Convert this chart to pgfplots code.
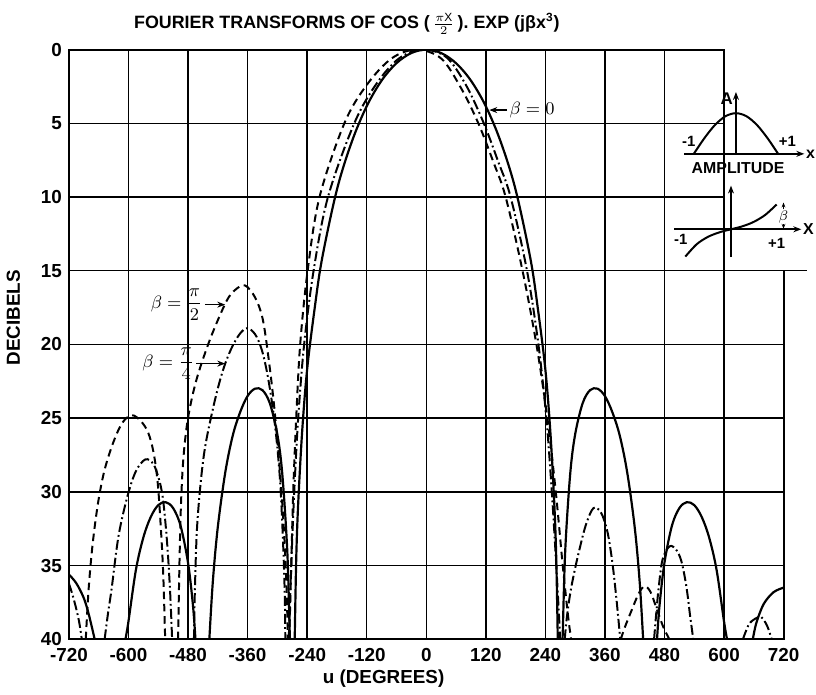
\documentclass[border=0pt]{standalone}
\usepackage{pgfplots}
\pgfplotsset{compat=1.18}
\usepackage{fontspec}
\setmainfont{Liberation Sans}
\usetikzlibrary{arrows.meta}

\pgfplotsset{
  bzero/.style={black, line width=1.1pt, smooth, tension=0.55, no markers},
  bquarter/.style={black, line width=1.0pt, smooth, tension=0.55, no markers,
    dash pattern=on 5pt off 1.6pt on 0.9pt off 1.6pt},
  bhalf/.style={black, line width=1.0pt, smooth, tension=0.55, no markers,
    dash pattern=on 3.8pt off 2.4pt},
}

\begin{document}
\begin{tikzpicture}
\begin{axis}[
  name=main, at={(0,0)}, anchor=south west,
  width=360pt, height=297pt, scale only axis,
  xmin=-720, xmax=720, ymin=0, ymax=40, y dir=reverse,
  xtick={-720,-600,...,720}, ytick={0,5,...,40},
  grid=major, grid style={black, line width=0.7pt},
  axis line style={black, line width=0.9pt},
  major tick length=0pt,
  tick label style={font=\bfseries\fontsize{9.5}{11}\selectfont},
  /pgf/number format/assume math mode=true,
  xticklabel style={yshift=-1pt},
  clip mode=individual,
]
% beta = 0 (solid)
\addplot[bzero] coordinates {(-265,40) (-262,34.6) (-258,30.8) (-250,25.9) (-240,21.7) (-225,17.6) (-210,14.2) (-180,9.5) (-150,6.25) (-120,3.84) (-90,2.1) (-60,0.92) (-30,0.23) (0,0) (30,0.23) (60,0.92) (90,2.1) (120,3.84) (150,6.25) (180,9.5) (210,14.2) (225,17.6) (240,21.7) (250,25.9) (258,30.8) (262,34.6) (265,40)};
\addplot[bzero] coordinates {(-437,40) (-430,36.1) (-420,32.4) (-405,28.7) (-390,26.2) (-375,24.6) (-360,23.5) (-345,23.0) (-330,23.1) (-315,24.0) (-300,26.1) (-290,28.8) (-280,34.0) (-275,39.6) (-274,40)};
\addplot[bzero] coordinates {(274,40) (275,39.6) (280,34.0) (290,28.8) (300,26.1) (315,24.0) (330,23.1) (345,23.0) (360,23.5) (375,24.6) (390,26.2) (405,28.7) (420,32.4) (430,36.1) (437,40)};
\addplot[bzero] coordinates {(-606,40) (-600,38.8) (-585,35.3) (-570,33.1) (-555,31.7) (-540,30.9) (-525,30.7) (-510,31.1) (-495,32.3) (-480,34.8) (-470,37.7) (-465,40)};
\addplot[bzero] coordinates {(465,40) (470,37.7) (480,34.8) (495,32.3) (510,31.1) (525,30.7) (540,30.9) (555,31.7) (570,33.1) (585,35.3) (600,38.8) (606,40)};
\addplot[bzero] coordinates {(-720,35.6) (-705,36.2) (-690,37.2) (-680,38.3) (-668,40)};
\addplot[bzero] coordinates {(658,40) (665,38.9) (680,37.6) (700,36.8) (720,36.5)};

% beta = pi/4 (dash-dot)
\addplot[bquarter] coordinates {(-277,40) (-272,35) (-266,30) (-258,25) (-246,20) (-227,15) (-198,10) (-145,5) (-100,2.3) (-55,0.6) (-8,0) (40,0.5) (80,2.4) (116,5) (145,7.6) (170,10) (203,15) (226,20) (242,25) (253,30) (262,35) (270,40)};
\addplot[bquarter] coordinates {(-468,40) (-466,36.5) (-461,32) (-448,27.5) (-428,24.1) (-410,21.8) (-393,20.3) (-376,19.3) (-361,18.9) (-345,19.3) (-331,20.4) (-318,22.4) (-305,25.4) (-295,29) (-289,33) (-285,37) (-284,40)};
\addplot[bquarter] coordinates {(-648,40) (-641,38.2) (-634,36.6) (-620,33) (-602,30.3) (-585,28.6) (-566,27.8) (-550,28.1) (-538,29.2) (-530,30.6) (-522,33.5) (-516,36.8) (-512,40)};
\addplot[bquarter] coordinates {(-720,36.2) (-710,37.3) (-700,38.7) (-694,40)};
\addplot[bquarter] coordinates {(279,40) (283,38.6) (290,36.9) (298,35.5) (308,34) (322,32.2) (337,31.1) (352,31.4) (365,32.7) (375,34.8) (383,37.2) (389,39.3) (391,40)};
\addplot[bquarter] coordinates {(459,40) (463,38.4) (468,36.6) (476,34.6) (490,33.7) (503,33.9) (514,34.7) (524,36.4) (532,38.5) (538,40)};
\addplot[bquarter] coordinates {(638,40) (650,39) (663,38.6) (675,38.5) (687,39.1) (696,40)};

% beta = pi/2 (dashed)
\addplot[bhalf] coordinates {(-276,40) (-272,35) (-268,30) (-262,25) (-254,20) (-239,15) (-215,10) (-165,5) (-120,2.4) (-70,0.6) (-20,0) (30,0.6) (70,2.6) (105,5) (135,7.6) (160,10) (194,15) (222,20) (244,25) (261,30) (275,35) (286,38.5) (292,40)};
\addplot[bhalf] coordinates {(-500,40) (-497,34.5) (-494,30.7) (-489,27.6) (-480,25) (-463,22.4) (-435,19.6) (-403,17.1) (-385,16.3) (-365,16) (-345,16.8) (-330,18.2) (-319,20.6) (-307,24) (-295,28.5) (-286,33) (-281,37) (-279,40)};
\addplot[bhalf] coordinates {(-686,40) (-680,36.5) (-672,33.5) (-661,30.7) (-648,28.5) (-630,26.6) (-612,25.3) (-593,24.8) (-575,25.2) (-560,26) (-549,27.4) (-541,29.4) (-535,32.3) (-530,35.5) (-526,40)};
\addplot[bhalf] coordinates {(392,40) (400,39.2) (413,38.1) (428,36.9) (440,36.4) (452,36.8) (465,38) (478,39.2) (490,40)};

\coordinate (ttl) at (axis cs:-160,0);
\coordinate (xl) at (axis cs:-86,40);
\coordinate (yl) at (axis cs:-720,18.2);
\coordinate (m1) at (axis cs:600,0);
\coordinate (m2) at (axis cs:720,15);
\coordinate (a2s) at (axis cs:-446,17.3);
\coordinate (a2t) at (axis cs:-405,17.3);
\coordinate (a4s) at (axis cs:-463,21.3);
\coordinate (a4t) at (axis cs:-405,21.3);
\coordinate (a0s) at (axis cs:163,4.1);
\coordinate (a0t) at (axis cs:127,4.1);
\end{axis}

% cut-out corner for the sketches
\fill[white] ([xshift=0.4pt,yshift=1pt]m1) rectangle ([xshift=1pt,yshift=0.4pt]m2);
\draw[black, line width=0.7pt] (m2) -- ++(12pt,0);

\node[anchor=south, font=\bfseries\fontsize{9}{10}\selectfont] at ([yshift=4pt]ttl)
  {FOURIER TRANSFORMS OF COS (\,$\frac{\pi\mathrm{X}}{2}$\,).\ EXP (jβx\textsuperscript{3})};
\path ([yshift=25pt]ttl);
\node[font=\bfseries\fontsize{9.5}{11}\selectfont] at ([yshift=-20pt]xl) {u (DEGREES)};
\node[rotate=90, font=\bfseries\fontsize{9.5}{11}\selectfont] at ([xshift=-28pt]yl) {DECIBELS};

\draw[line width=0.8pt, -{Stealth[length=4pt]}] (a2s) -- (a2t);
\node[anchor=east, font=\fontsize{9}{10}\selectfont, inner sep=1pt] at (a2s) {$\beta=\displaystyle\frac{\pi}{2}$};
\draw[line width=0.8pt, -{Stealth[length=4pt]}] (a4s) -- (a4t);
\node[anchor=east, font=\fontsize{9}{10}\selectfont, inner sep=1pt] at (a4s) {$\beta=\displaystyle\frac{\pi}{4}$};
\draw[line width=0.8pt, -{Stealth[length=4pt]}] (a0s) -- (a0t);
\node[anchor=west, font=\fontsize{9.5}{10}\selectfont, inner sep=1pt] at (a0s) {$\beta=0$};

% sketch: amplitude
\begin{axis}[at={(336pt,244.5pt)}, anchor=origin, hide axis, scale only axis,
  width=63.75pt, height=30.75pt, xmin=-1.5, xmax=1.5, ymin=0, ymax=1.5, clip=false]
\addplot[black, line width=1pt, smooth] coordinates {(-1,0) (-0.75,0.383) (-0.5,0.707) (-0.25,0.924) (0,1) (0.25,0.924) (0.5,0.707) (0.75,0.383) (1,0)};
\draw[line width=0.9pt, -{Stealth[length=4pt]}] (axis cs:-1.22,0) -- (axis cs:1.62,0) node[right, inner sep=0.5pt, font=\bfseries\fontsize{8}{9}\selectfont] {x};
\draw[line width=0.9pt, -{Stealth[length=4pt]}] (axis cs:0,0) -- (axis cs:0,1.52);
\node[left, font=\bfseries\fontsize{8.5}{9}\selectfont, inner sep=1pt] at (axis cs:-0.02,1.35) {A};
\node[font=\bfseries\fontsize{7.5}{9}\selectfont] at (axis cs:-1.12,0.3) {-1};
\node[font=\bfseries\fontsize{7.5}{9}\selectfont] at (axis cs:1.22,0.3) {+1};
\node[below, font=\bfseries\fontsize{8}{9}\selectfont, inner sep=1pt] at (axis cs:0.05,-0.15) {AMPLITUDE};
\end{axis}

% sketch: phase
\begin{axis}[at={(333.5pt,206.5pt)}, anchor=origin, hide axis, scale only axis,
  width=66.7pt, height=37.5pt, xmin=-1.3, xmax=1.6, ymin=-1.2, ymax=1.8, clip=false]
\addplot[black, line width=1pt, smooth] coordinates {(-1,-1.1) (-0.75,-0.6) (-0.5,-0.3) (-0.25,-0.12) (0,0) (0.25,0.12) (0.5,0.3) (0.75,0.58) (1,1.0)};
\draw[line width=0.9pt, -{Stealth[length=4pt]}] (axis cs:-1.24,0) -- (axis cs:1.54,0) node[right, inner sep=0.5pt, font=\bfseries\fontsize{8}{9}\selectfont] {X};
\draw[line width=0.9pt, -{Stealth[length=4pt]}] (axis cs:0,-1.12) -- (axis cs:0,1.76);
\node[font=\bfseries\fontsize{7.5}{9}\selectfont] at (axis cs:-1.1,-0.42) {-1};
\node[font=\bfseries\fontsize{7.5}{9}\selectfont] at (axis cs:1.0,-0.55) {+1};
\node[font=\fontsize{7.5}{9}\selectfont, inner sep=0.5pt] (bt) at (axis cs:1.15,0.5) {$\beta$};
\draw[line width=0.6pt, -{Stealth[length=2.5pt]}] (bt.north) -- (axis cs:1.15,1.08);
\draw[line width=0.6pt, -{Stealth[length=2.5pt]}] (bt.south) -- (axis cs:1.15,0.02);
\end{axis}
\end{tikzpicture}
\end{document}
